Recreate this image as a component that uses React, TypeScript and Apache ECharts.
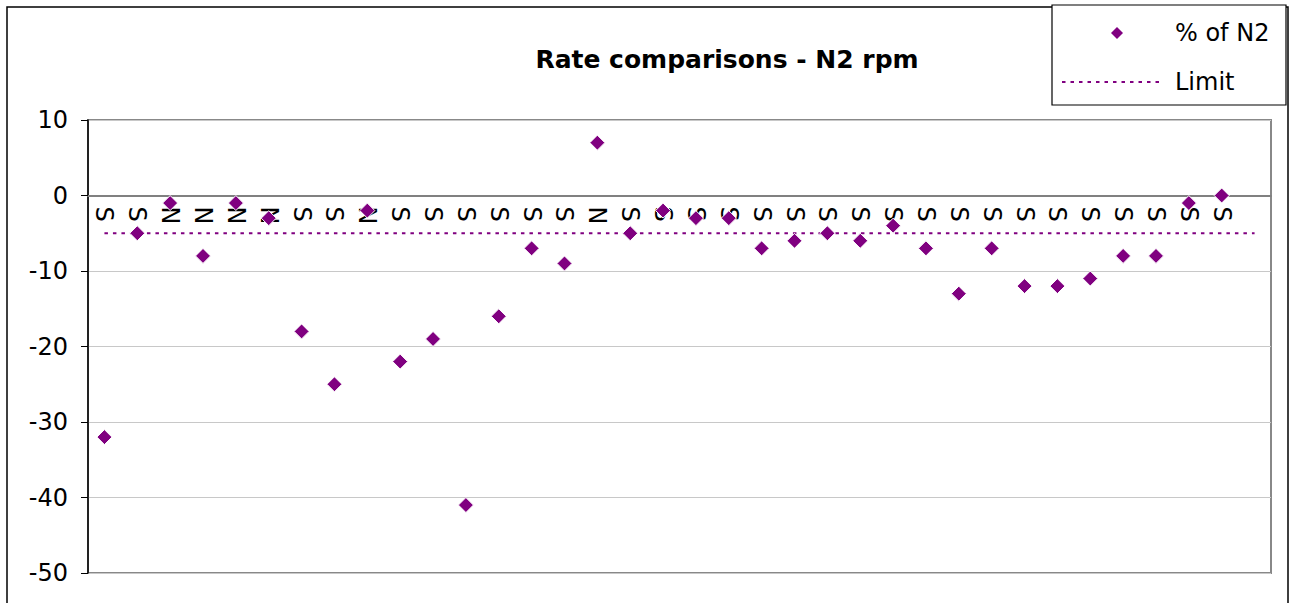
import React, { useEffect, useRef } from "react";
import * as echarts from "echarts";

const categories: string[] = [
  "S", "S", "N", "N", "N", "N", "S", "S", "N", "S", "S", "S", "S", "S", "S", "N",
  "S", "S", "S", "S", "S", "S", "S", "S", "S", "S", "S", "S", "S", "S", "S", "S",
  "S", "S", "S", "",
];
const pctOfN2: number[] = [
  -32, -5, -1, -8, -1, -3, -18, -25, -2, -22, -19, -41, -16, -7, -9, 7,
  -5, -2, -3, -3, -7, -6, -5, -6, -4, -7, -13, -7, -12, -12, -11, -8,
  -8, -1, 0,
];
const limitValues: number[] = categories.map(() => -5);
const yTicks = { min: -50, max: 10, interval: 10 };
const seriesNames = ["% of N2", "Limit"];

const FONT = "DejaVu Sans";
const PURPLE = "#800080";

const GRID_TOP = 120;
const GRID_BOTTOM = 30;
const PLOT_H = 603 - GRID_TOP - GRID_BOTTOM;
const zeroOffset = -((0 - yTicks.min) / (yTicks.max - yTicks.min)) * PLOT_H;

export default function App() {
  const ref = useRef<HTMLDivElement>(null);
  useEffect(() => {
    if (!ref.current) return;
    const chart = echarts.init(ref.current, undefined, { renderer: "svg" });
    chart.setOption({
      animation: false,
      backgroundColor: "#ffffff",
      title: {
        text: "Rate comparisons - N2 rpm",
        left: 722,
        top: 42,
        textAlign: "center",
        textStyle: { fontFamily: FONT, fontSize: 25, fontWeight: "bold", color: "#000" },
      },
      graphic: [
        {
          type: "rect",
          shape: { x: 7, y: 7, width: 1281, height: 600 },
          style: { fill: "none", stroke: "#000", lineWidth: 1.5 },
          silent: true,
          z: -1,
        },
        {
          type: "group",
          z: 10,
          children: [
            {
              type: "rect",
              shape: { x: 1052, y: 5, width: 234, height: 100 },
              style: { fill: "#fff", stroke: "#000", lineWidth: 1.2 },
              silent: true,
            },
            {
              type: "polygon",
              shape: { points: [[1117, 27], [1123, 33], [1117, 39], [1111, 33]] },
              style: { fill: PURPLE },
              silent: true,
            },
            {
              type: "text",
              x: 1175,
              y: 33,
              style: {
                text: seriesNames[0],
                fontFamily: FONT,
                fontSize: 24,
                fill: "#000",
                verticalAlign: "middle",
                textAlign: "left",
              },
              silent: true,
            },
            {
              type: "line",
              shape: { x1: 1062, y1: 82, x2: 1162, y2: 82 },
              style: { stroke: PURPLE, lineWidth: 2.2, lineDash: [3.5, 5] },
              silent: true,
            },
            {
              type: "text",
              x: 1175,
              y: 82,
              style: {
                text: seriesNames[1],
                fontFamily: FONT,
                fontSize: 24,
                fill: "#000",
                verticalAlign: "middle",
                textAlign: "left",
              },
              silent: true,
            },
          ],
        },
      ],
      grid: {
        left: 88,
        right: 18,
        top: GRID_TOP,
        bottom: GRID_BOTTOM,
        show: true,
        borderColor: "#888",
        borderWidth: 2,
      },
      xAxis: {
        type: "category",
        data: categories,
        boundaryGap: true,
        offset: zeroOffset,
        axisLine: { onZero: false, lineStyle: { color: "#808080", width: 2 } },
        axisTick: { show: false },
        axisLabel: {
          interval: 0,
          rotate: -90,
          margin: 11,
          fontFamily: FONT,
          fontSize: 24,
          color: "#000",
        },
        splitLine: { show: false },
      },
      yAxis: {
        type: "value",
        min: yTicks.min,
        max: yTicks.max,
        interval: yTicks.interval,
        axisLine: { show: true, lineStyle: { color: "#000", width: 1.5 } },
        axisTick: { show: true, inside: false, length: 7, lineStyle: { color: "#000" } },
        axisLabel: { margin: 20, fontFamily: FONT, fontSize: 24, color: "#000" },
        splitLine: { show: true, lineStyle: { color: "#c8c8c8", width: 1 } },
      },
      series: [
        {
          name: seriesNames[1],
          type: "line",
          data: limitValues,
          symbol: "none",
          lineStyle: { color: PURPLE, width: 2.2, type: [3.5, 5] },
          itemStyle: { color: PURPLE },
          z: 1,
        },
        {
          name: seriesNames[0],
          type: "scatter",
          data: pctOfN2,
          symbol: "diamond",
          symbolSize: 15,
          itemStyle: { color: PURPLE, borderColor: "#fff", borderWidth: 1, opacity: 1 },
          z: 3,
        },
      ],
    });
    return () => chart.dispose();
  }, []);
  return (
    <div
      ref={ref}
      style={{ position: "absolute", left: 0, top: 0, width: 1289, height: 603 }}
    />
  );
}
